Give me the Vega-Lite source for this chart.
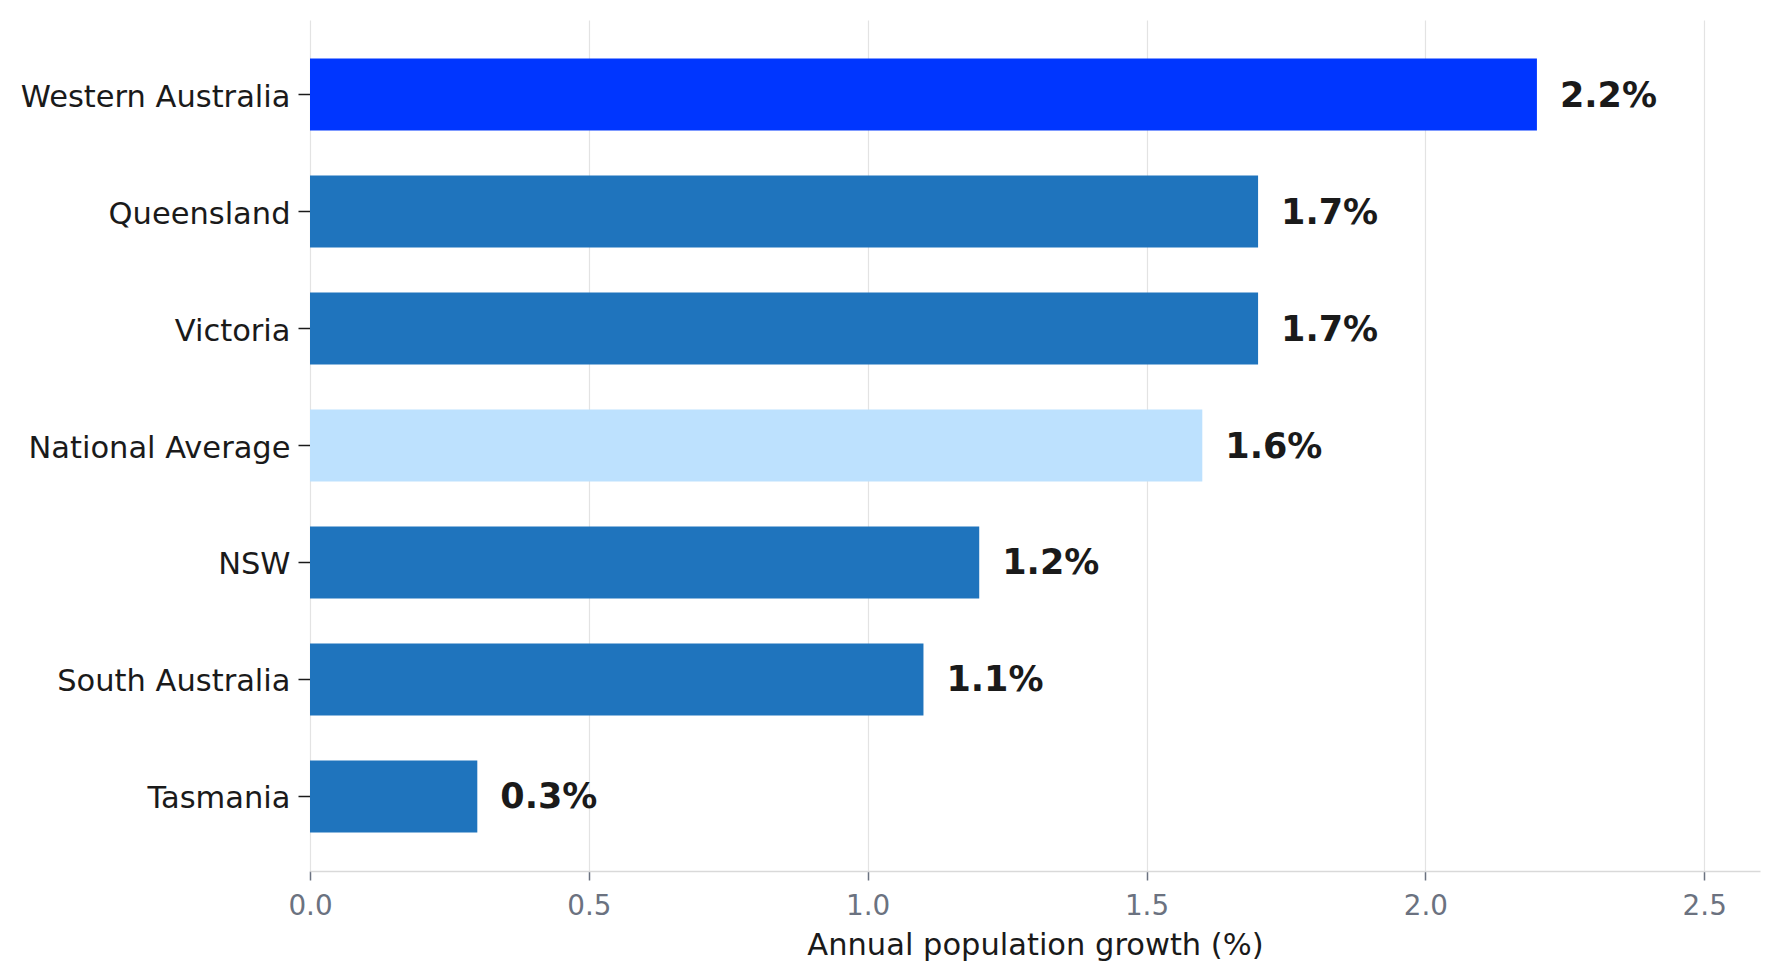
{
  "$schema": "https://vega.github.io/schema/vega-lite/v6.json",
  "width": 1450,
  "height": 851,
  "padding": {"left": 310, "top": 20, "right": 19, "bottom": 109},
  "autosize": {"type": "none"},
  "background": "white",
  "config": {
    "view": {"stroke": null},
    "font": "DejaVu Sans"
  },
  "data": {
    "values": [
      {"region": "Western Australia", "growth": 2.2, "label": "2.2%", "group": "top"},
      {"region": "Queensland", "growth": 1.7, "label": "1.7%", "group": "state"},
      {"region": "Victoria", "growth": 1.7, "label": "1.7%", "group": "state"},
      {"region": "National Average", "growth": 1.6, "label": "1.6%", "group": "avg"},
      {"region": "NSW", "growth": 1.2, "label": "1.2%", "group": "state"},
      {"region": "South Australia", "growth": 1.1, "label": "1.1%", "group": "state"},
      {"region": "Tasmania", "growth": 0.3, "label": "0.3%", "group": "state"}
    ]
  },
  "encoding": {
    "y": {
      "field": "region",
      "type": "nominal",
      "sort": null,
      "scale": {"paddingInner": 0.385, "paddingOuter": 0.33},
      "axis": {
        "title": null,
        "domain": false,
        "ticks": true,
        "tickColor": "#1a1a1a",
        "tickSize": 12,
        "tickWidth": 1.5,
        "labelPadding": 8,
        "labelOffset": 3,
        "labelLimit": 0,
        "labelFontSize": 30.5,
        "labelColor": "#1a1a1a",
        "labelFont": "DejaVu Sans",
        "grid": false
      }
    }
  },
  "layer": [
    {
      "mark": {"type": "bar"},
      "encoding": {
        "x": {
          "field": "growth",
          "type": "quantitative",
          "scale": {"domain": [0, 2.6], "nice": false},
          "axis": {
            "title": "Annual population growth (%)",
            "titleFontSize": 30.5,
            "titleFont": "DejaVu Sans",
            "titleFontWeight": "normal",
            "titleColor": "#1a1a1a",
            "titlePadding": 11,
            "values": [0, 0.5, 1.0, 1.5, 2.0, 2.5],
            "format": ".1f",
            "labelFlush": false,
            "labelFontSize": 27.8,
            "labelFont": "DejaVu Sans",
            "labelColor": "#6b7280",
            "labelPadding": 12,
            "domainColor": "#d9d9d9",
            "domainWidth": 1.5,
            "tickColor": "#6b7280",
            "tickSize": 9,
            "tickWidth": 1.5,
            "grid": true,
            "gridColor": "#e3e3e3",
            "gridWidth": 1.2
          }
        },
        "color": {
          "field": "group",
          "type": "nominal",
          "scale": {"domain": ["top", "state", "avg"], "range": ["#0036ff", "#1f74bd", "#bde1fe"]},
          "legend": null
        }
      }
    },
    {
      "mark": {"type": "text", "align": "left", "baseline": "middle", "dx": 23, "dy": 1, "fontSize": 35, "fontWeight": "bold", "color": "#1a1a1a", "font": "DejaVu Sans"},
      "encoding": {
        "x": {"field": "growth", "type": "quantitative"},
        "text": {"field": "label"}
      }
    }
  ]
}
